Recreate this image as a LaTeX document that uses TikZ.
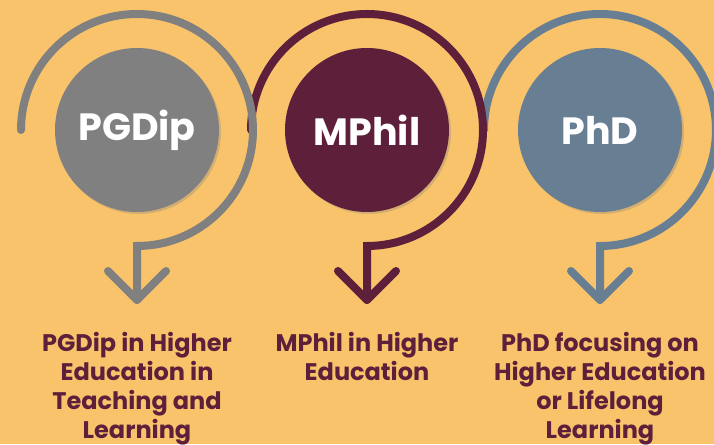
\documentclass[tikz,border=0pt]{standalone}
\usepackage{fontspec}
\setmainfont{Poppins}
\usetikzlibrary{positioning,shadows}
\definecolor{bgcol}{HTML}{F8C36B}
\definecolor{greycol}{HTML}{808080}
\definecolor{maroon}{HTML}{5E1F3B}
\definecolor{slate}{HTML}{687E93}

\begin{document}
\begin{tikzpicture} [x=1pt, y=1pt,
    disc/.style={circle,%
      minimum size=164pt,%
      inner sep=0,%
      text=white,%
      font=\bfseries\fontsize{38}{40}\selectfont,%
      drop shadow={opacity=.3, shadow xshift=2pt, shadow yshift=-2pt}},
    ring/.style={line width=8pt,
      line cap=round,
      preaction={draw=black!70!brown, draw opacity=.25,
        transform canvas={shift={(1.5pt,-1.5pt)}}}},
    caption/.style={align=center,
      text=maroon,
      inner sep=0,
      font=\bfseries\fontsize{24}{29}\selectfont}
    ]
    \path[fill=bgcol, use as bounding box] (0,0) rectangle (714,444);
    \clip (0,0) rectangle (714,444);
    \foreach \x/\col/\name/\txt in {600/slate/phd/PhD,367/maroon/mphil/MPhil,137/greycol/pgdip/PGDip} {%
      \node[disc, fill=\col] (\name) at (\x,314) {\txt};
      \coordinate (tip\name) at (\x,144);
      \draw[ring, draw=\col] (\name.center) ++(-116,0) arc[start angle=180, end angle=-90, radius=116] -- (tip\name);
      \draw[ring, draw=\col, line join=round] (tip\name) ++(-29,29) -- (tip\name) -- ++(29,29);
    }
    \node[caption, below=32pt of tippgdip] (pgdiptext) {PGDip in Higher\\Education in\\Teaching and\\Learning};
    \node[caption, below=32pt of tipmphil] (mphiltext) {MPhil in Higher\\Education};
    \node[caption, below=32pt of tipphd] (phdtext) {PhD focusing on\\Higher Education\\or Lifelong\\Learning};
  \end{tikzpicture}
\end{document}
